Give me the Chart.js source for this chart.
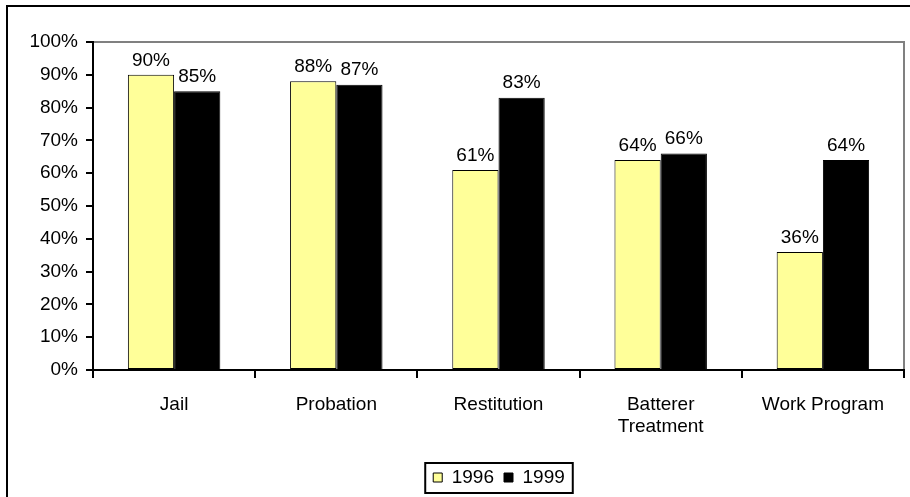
<!DOCTYPE html>
<html>
<head>
<meta charset="utf-8">
<script src="https://cdn.jsdelivr.net/npm/chart.js@4/dist/chart.umd.min.js"></script>
<style>
  html, body { margin: 0; padding: 0; background: #fff; }
  #wrap { width: 910px; height: 497px; position: relative; }
</style>
</head>
<body>
<div id="wrap"><canvas id="myChart"></canvas></div>
<script>
// values
var categories = ['Jail', 'Probation', 'Restitution', ['Batterer', 'Treatment'], 'Work Program'];
var series1996 = [90, 88, 61, 64, 36];
var series1999 = [85, 87, 83, 66, 64];
var seriesNames = ['1996', '1999'];

var FONT = 'Arial, "Liberation Sans", sans-serif';
Chart.defaults.font.family = FONT;
Chart.defaults.font.size = 19;
Chart.defaults.color = '#000';

// outer frame + gray plot border (axes draw black over left/bottom)
var framePlugin = {
  id: 'frame',
  beforeDraw: function(chart) {
    var ctx = chart.ctx, a = chart.chartArea;
    ctx.save();
    ctx.fillStyle = '#fff';
    ctx.fillRect(0, 0, chart.width, chart.height);
    ctx.strokeStyle = '#000';
    ctx.lineWidth = 2;
    ctx.strokeRect(7, 6, 1000, 1000);
    ctx.strokeStyle = '#808080';
    ctx.strokeRect(a.left, a.top, a.right - a.left, a.bottom - a.top);
    ctx.restore();
  }
};

// value labels above bars
var labelPlugin = {
  id: 'valueLabels',
  afterDatasetsDraw: function(chart) {
    var ctx = chart.ctx;
    ctx.save();
    ctx.font = '19px ' + FONT;
    ctx.fillStyle = '#000';
    ctx.textAlign = 'center';
    ctx.textBaseline = 'bottom';
    chart.data.datasets.forEach(function(ds, i) {
      chart.getDatasetMeta(i).data.forEach(function(bar, j) {
        ctx.fillText(ds.data[j] + '%', bar.x, bar.y - 5);
      });
    });
    ctx.restore();
  }
};

// legend sits a bit right of centre in the original; box round it
var LEGEND_SHIFT = 42;
var legendBoxPlugin = {
  id: 'legendBox',
  afterUpdate: function(chart) {
    var lg = chart.legend;
    lg.left += LEGEND_SHIFT;
    lg.right += LEGEND_SHIFT;
  },
  afterDraw: function(chart) {
    var lg = chart.legend;
    var ctx = chart.ctx;
    ctx.save();
    ctx.font = '19px ' + FONT;
    var total = 0;
    seriesNames.forEach(function(n, i) {
      total += 9 + 19 / 2 + ctx.measureText(n).width;
      if (i > 0) total += 10;
    });
    var cx = (lg.left + lg.right) / 2;
    var top = lg.top + 10;
    ctx.strokeStyle = '#000';
    ctx.lineWidth = 2;
    ctx.strokeRect(cx - total / 2 - 8, top - 5, total + 16, 19 + 11);
    ctx.restore();
  }
};

var ctx = document.getElementById('myChart').getContext('2d');
var myChart = new Chart(ctx, {
  type: 'bar',
  data: {
    labels: categories,
    datasets: [
      {
        label: seriesNames[0],
        data: series1996,
        backgroundColor: '#FFFF99',
        borderColor: '#000',
        borderWidth: 1,
        borderSkipped: false
      },
      {
        label: seriesNames[1],
        data: series1999,
        backgroundColor: '#000',
        borderColor: '#000',
        borderWidth: 1
      }
    ]
  },
  options: {
    responsive: true,
    maintainAspectRatio: false,
    animation: false,
    layout: { padding: { left: 10, top: 42, right: 6, bottom: 0 } },
    datasets: {
      bar: { categoryPercentage: 0.57, barPercentage: 1.0 }
    },
    scales: {
      x: {
        afterFit: function(s) { s.height = 88; },
        grid: {
          offset: true,
          drawOnChartArea: false,
          color: '#000',
          lineWidth: 2,
          tickLength: 8
        },
        border: { color: '#000', width: 2 },
        ticks: { padding: 15, maxRotation: 0, autoSkip: false }
      },
      y: {
        min: 0,
        max: 100,
        afterFit: function(s) { s.width = 83; },
        grid: {
          drawOnChartArea: false,
          color: '#000',
          lineWidth: 2,
          tickLength: 7
        },
        border: { color: '#000', width: 2 },
        ticks: {
          stepSize: 10,
          padding: 8,
          callback: function(v) { return v + '%'; }
        }
      }
    },
    plugins: {
      legend: {
        position: 'bottom',
        labels: {
          boxWidth: 9,
          boxHeight: 9,
          padding: 10,
          font: { size: 19 }
        }
      },
      tooltip: { enabled: false }
    }
  },
  plugins: [framePlugin, labelPlugin, legendBoxPlugin]
});
</script>
</body>
</html>
